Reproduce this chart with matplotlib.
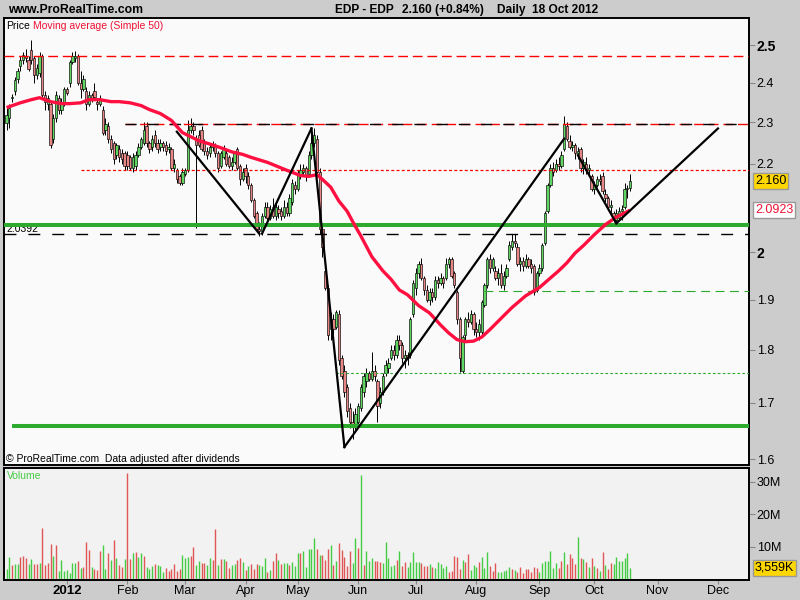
import numpy as np
import pandas as pd
import matplotlib
matplotlib.use('Agg')
import matplotlib.pyplot as plt
from matplotlib.ticker import FixedLocator, FixedFormatter, NullLocator

plt.rcParams['font.family'] = ['Liberation Sans', 'DejaVu Sans']

# trading calendar (Euronext Lisbon closing days removed)
holidays = ['2011-12-26', '2012-04-06', '2012-04-09', '2012-05-01',
            '2012-12-24', '2012-12-25', '2012-12-26', '2012-12-31']
days = pd.bdate_range('2011-11-30', '2012-12-31')
days = days[~days.isin(pd.to_datetime(holidays))]

opens = [2.298, 2.310, 2.360, 2.380, 2.410, 2.445, 2.460, 2.470, 2.460, 2.487,
         2.465, 2.420, 2.425, 2.470, 2.370, 2.345, 2.345, 2.260, 2.310, 2.360,
         2.330, 2.345, 2.385, 2.400, 2.455, 2.465, 2.470, 2.400, 2.385, 2.380,
         2.345, 2.370, 2.380, 2.350, 2.345, 2.330, 2.280, 2.290, 2.260, 2.250,
         2.220, 2.235, 2.225, 2.225, 2.220, 2.215, 2.190, 2.195, 2.220, 2.240,
         2.250, 2.290, 2.250, 2.240, 2.270, 2.250, 2.240, 2.250, 2.245, 2.235,
         2.235, 2.190, 2.185, 2.170, 2.155, 2.175, 2.185, 2.280, 2.290, 2.260,
         2.270, 2.280, 2.250, 2.230, 2.225, 2.240, 2.245, 2.225, 2.195, 2.215,
         2.225, 2.215, 2.195, 2.205, 2.235, 2.195, 2.165, 2.190, 2.170, 2.150,
         2.115, 2.085, 2.050, 2.045, 2.080, 2.100, 2.075, 2.100, 2.080, 2.095,
         2.090, 2.080, 2.100, 2.085, 2.110, 2.150, 2.140, 2.175, 2.180, 2.190,
         2.175, 2.220, 2.250, 2.260, 2.180, 2.050, 1.960, 1.925, 1.840, 1.860,
         1.845, 1.870, 1.785, 1.760, 1.730, 1.690, 1.665, 1.660, 1.665, 1.690,
         1.720, 1.740, 1.755, 1.745, 1.760, 1.740, 1.700, 1.720, 1.755, 1.765,
         1.785, 1.800, 1.790, 1.820, 1.810, 1.785, 1.790, 1.790, 1.870, 1.925,
         1.955, 1.975, 1.945, 1.920, 1.900, 1.915, 1.905, 1.940, 1.935, 1.945,
         1.945, 1.975, 1.985, 1.955, 1.915, 1.860, 1.760, 1.830, 1.860, 1.855,
         1.870, 1.840, 1.835, 1.835, 1.890, 1.930, 1.985, 1.965, 1.960, 1.945,
         1.955, 1.930, 1.950, 1.985, 2.010, 2.025, 2.010, 1.975, 1.980, 1.970,
         1.985, 1.975, 1.970, 1.920, 1.955, 1.965, 2.020, 2.090, 2.150, 2.190,
         2.185, 2.200, 2.195, 2.235, 2.290, 2.255, 2.240, 2.245, 2.225, 2.235,
         2.190, 2.200, 2.185, 2.170, 2.140, 2.150, 2.165, 2.170, 2.130, 2.120,
         2.100, 2.085, 2.070, 2.075, 2.090, 2.100, 2.140, 2.142]
highs = [2.335, 2.345, 2.372, 2.415, 2.440, 2.470, 2.480, 2.490, 2.470, 2.513,
         2.470, 2.450, 2.480, 2.475, 2.380, 2.370, 2.350, 2.320, 2.380, 2.370,
         2.360, 2.390, 2.390, 2.460, 2.480, 2.485, 2.475, 2.430, 2.420, 2.390,
         2.380, 2.375, 2.400, 2.360, 2.370, 2.340, 2.310, 2.300, 2.270, 2.255,
         2.250, 2.245, 2.235, 2.230, 2.230, 2.220, 2.225, 2.230, 2.250, 2.265,
         2.300, 2.300, 2.255, 2.270, 2.280, 2.260, 2.260, 2.255, 2.255, 2.250,
         2.240, 2.210, 2.190, 2.175, 2.190, 2.190, 2.305, 2.310, 2.300, 2.270,
         2.280, 2.290, 2.260, 2.240, 2.250, 2.255, 2.250, 2.230, 2.230, 2.245,
         2.235, 2.220, 2.215, 2.230, 2.240, 2.200, 2.190, 2.200, 2.180, 2.155,
         2.120, 2.090, 2.065, 2.085, 2.110, 2.110, 2.105, 2.120, 2.110, 2.105,
         2.100, 2.115, 2.110, 2.130, 2.165, 2.160, 2.185, 2.200, 2.200, 2.195,
         2.230, 2.287, 2.285, 2.270, 2.190, 2.060, 1.970, 1.930, 1.875, 1.870,
         1.880, 1.880, 1.790, 1.770, 1.735, 1.700, 1.685, 1.690, 1.700, 1.735,
         1.755, 1.765, 1.760, 1.795, 1.770, 1.745, 1.730, 1.755, 1.780, 1.785,
         1.810, 1.810, 1.830, 1.830, 1.815, 1.800, 1.795, 1.865, 1.940, 1.965,
         1.980, 1.988, 1.950, 1.930, 1.925, 1.925, 1.950, 1.950, 1.955, 1.950,
         1.988, 1.990, 1.990, 1.960, 1.920, 1.865, 1.830, 1.865, 1.875, 1.880,
         1.875, 1.855, 1.860, 1.900, 1.935, 1.990, 1.995, 1.990, 1.970, 1.965,
         1.975, 1.960, 1.975, 2.025, 2.040, 2.040, 2.020, 1.990, 1.990, 1.995,
         1.990, 1.985, 1.975, 1.960, 1.975, 2.020, 2.090, 2.155, 2.200, 2.205,
         2.210, 2.215, 2.230, 2.315, 2.300, 2.270, 2.255, 2.250, 2.240, 2.240,
         2.210, 2.215, 2.200, 2.175, 2.160, 2.170, 2.175, 2.180, 2.140, 2.125,
         2.115, 2.090, 2.095, 2.100, 2.105, 2.155, 2.150, 2.175]
lows = [2.280, 2.285, 2.350, 2.370, 2.400, 2.430, 2.450, 2.455, 2.430, 2.450,
        2.400, 2.410, 2.415, 2.360, 2.330, 2.330, 2.238, 2.250, 2.300, 2.320,
        2.320, 2.340, 2.370, 2.390, 2.450, 2.455, 2.395, 2.360, 2.380, 2.330,
        2.340, 2.350, 2.360, 2.330, 2.340, 2.270, 2.270, 2.250, 2.225, 2.200,
        2.210, 2.205, 2.200, 2.185, 2.185, 2.185, 2.180, 2.185, 2.215, 2.235,
        2.245, 2.240, 2.225, 2.230, 2.240, 2.225, 2.230, 2.230, 2.220, 2.225,
        2.185, 2.180, 2.155, 2.150, 2.150, 2.170, 2.180, 2.275, 2.270, 2.053,
        2.240, 2.230, 2.220, 2.210, 2.215, 2.230, 2.215, 2.180, 2.190, 2.210,
        2.195, 2.190, 2.185, 2.200, 2.185, 2.150, 2.160, 2.155, 2.140, 2.110,
        2.075, 2.045, 2.035, 2.038, 2.075, 2.070, 2.070, 2.075, 2.070, 2.075,
        2.070, 2.075, 2.080, 2.080, 2.105, 2.130, 2.135, 2.165, 2.170, 2.160,
        2.170, 2.210, 2.240, 2.170, 2.040, 1.990, 1.920, 1.820, 1.820, 1.830,
        1.840, 1.770, 1.745, 1.710, 1.675, 1.655, 1.635, 1.650, 1.655, 1.685,
        1.710, 1.730, 1.740, 1.740, 1.740, 1.665, 1.690, 1.715, 1.750, 1.755,
        1.780, 1.780, 1.785, 1.800, 1.775, 1.765, 1.770, 1.785, 1.865, 1.910,
        1.945, 1.940, 1.910, 1.895, 1.890, 1.895, 1.900, 1.925, 1.930, 1.925,
        1.940, 1.965, 1.945, 1.925, 1.850, 1.757, 1.755, 1.820, 1.845, 1.850,
        1.830, 1.825, 1.820, 1.830, 1.885, 1.925, 1.955, 1.960, 1.940, 1.930,
        1.925, 1.920, 1.945, 1.980, 2.005, 2.010, 1.970, 1.960, 1.960, 1.965,
        1.965, 1.955, 1.910, 1.915, 1.950, 1.960, 2.015, 2.085, 2.145, 2.170,
        2.180, 2.185, 2.190, 2.230, 2.255, 2.235, 2.230, 2.210, 2.210, 2.180,
        2.175, 2.175, 2.170, 2.135, 2.130, 2.145, 2.150, 2.130, 2.110, 2.095,
        2.085, 2.065, 2.065, 2.070, 2.070, 2.095, 2.120, 2.135]
closes = [2.319, 2.335, 2.365, 2.408, 2.430, 2.460, 2.473, 2.465, 2.435, 2.460,
          2.420, 2.440, 2.470, 2.370, 2.350, 2.360, 2.245, 2.310, 2.370, 2.330,
          2.345, 2.385, 2.375, 2.455, 2.470, 2.470, 2.400, 2.385, 2.410, 2.345,
          2.370, 2.360, 2.365, 2.345, 2.355, 2.275, 2.295, 2.260, 2.235, 2.210,
          2.245, 2.215, 2.210, 2.195, 2.195, 2.190, 2.215, 2.220, 2.240, 2.260,
          2.280, 2.250, 2.235, 2.260, 2.250, 2.235, 2.250, 2.240, 2.230, 2.240,
          2.190, 2.200, 2.165, 2.155, 2.180, 2.185, 2.280, 2.290, 2.280, 2.245,
          2.245, 2.235, 2.230, 2.220, 2.240, 2.245, 2.225, 2.190, 2.225, 2.235,
          2.200, 2.195, 2.205, 2.225, 2.190, 2.165, 2.180, 2.170, 2.150, 2.115,
          2.080, 2.050, 2.045, 2.080, 2.100, 2.075, 2.095, 2.080, 2.100, 2.085,
          2.080, 2.100, 2.085, 2.120, 2.155, 2.140, 2.175, 2.185, 2.190, 2.170,
          2.220, 2.250, 2.270, 2.180, 2.050, 2.010, 1.925, 1.830, 1.860, 1.840,
          1.875, 1.780, 1.750, 1.720, 1.685, 1.665, 1.660, 1.680, 1.695, 1.730,
          1.750, 1.755, 1.745, 1.760, 1.750, 1.695, 1.720, 1.750, 1.770, 1.775,
          1.800, 1.790, 1.820, 1.810, 1.785, 1.790, 1.785, 1.860, 1.935, 1.955,
          1.975, 1.945, 1.920, 1.900, 1.915, 1.905, 1.940, 1.935, 1.945, 1.935,
          1.975, 1.985, 1.950, 1.930, 1.860, 1.785, 1.825, 1.860, 1.855, 1.870,
          1.840, 1.835, 1.850, 1.895, 1.930, 1.985, 1.965, 1.985, 1.945, 1.955,
          1.930, 1.950, 1.965, 2.015, 2.025, 2.020, 1.975, 1.980, 1.970, 1.985,
          1.970, 1.965, 1.915, 1.955, 1.965, 2.015, 2.085, 2.150, 2.190, 2.180,
          2.200, 2.195, 2.220, 2.295, 2.260, 2.240, 2.245, 2.225, 2.230, 2.190,
          2.205, 2.185, 2.190, 2.140, 2.150, 2.165, 2.160, 2.135, 2.120, 2.100,
          2.105, 2.070, 2.085, 2.090, 2.095, 2.140, 2.142, 2.160]

# volume in millions of shares, and bar colour as drawn (g = up, r = down)
volume_m = [3.1, 6.8, 4.3, 4.6, 4.6, 6.8, 7.1, 6.6, 4.6, 6.2,
            4.6, 4.6, 4.9, 15.7, 4.3, 5.1, 10.8, 7.0, 10.5, 2.5,
            5.8, 2.5, 2.8, 1.8, 4.9, 4.9, 5.5, 3.5, 3.8, 11.5,
            9.0, 3.7, 3.2, 2.8, 8.6, 10.5, 3.1, 8.0, 5.8, 12.0,
            6.6, 4.3, 3.7, 6.2, 32.6, 6.2, 8.0, 8.3, 6.8, 8.0,
            7.1, 3.7, 3.1, 4.0, 4.6, 4.3, 4.0, 2.2, 3.4, 2.5,
            3.1, 4.6, 2.5, 3.1, 7.4, 6.5, 6.8, 7.1, 9.8, 4.3,
            5.5, 4.9, 4.9, 4.3, 6.5, 5.8, 15.4, 4.3, 6.2, 6.2,
            5.5, 3.4, 4.3, 4.6, 5.8, 6.5, 5.2, 2.8, 4.0, 4.6,
            3.1, 4.6, 4.3, 4.0, 6.5, 2.2, 2.8, 5.5, 8.0, 5.8,
            4.6, 4.9, 4.9, 4.3, 5.2, 4.0, 8.0, 8.0, 8.6, 3.7,
            9.2, 9.2, 12.6, 9.2, 7.4, 7.4, 5.8, 9.2, 10.5, 4.3,
            5.5, 11.1, 8.9, 6.8, 4.0, 8.6, 4.9, 12.6, 9.5, 32.0,
            4.3, 8.6, 5.5, 6.5, 5.5, 5.5, 5.2, 4.9, 11.4, 6.5,
            4.0, 4.3, 5.8,
            8.6, 4.0, 5.2, 3.7, 5.2, 8.3, 5.2, 5.2, 4.9, 4.0,
            4.0, 4.6, 3.7, 3.4, 5.2, 4.6, 3.4, 4.0, 2.2, 2.5,
            7.1, 6.8, 3.1, 5.8, 5.2, 7.7, 2.8, 4.3, 3.7, 5.2,
            6.8, 3.4, 8.3, 4.0, 2.5, 4.9, 2.2, 2.2, 2.5, 2.8,
            3.7, 3.1, 2.8, 2.2, 3.7, 1.8, 3.1, 3.1, 2.2, 3.7,
            3.4, 2.2, 4.9, 5.5, 5.5, 8.6, 3.4, 4.9, 3.4, 5.5,
            8.3, 4.6, 7.7, 6.5, 4.6, 12.9, 6.5, 6.2, 5.2, 3.7,
            6.5, 4.0, 3.4, 2.5, 8.3, 4.3, 3.1, 4.9, 4.6, 6.8,
            5.5, 5.5, 6.5, 8.0, 3.559]
volume_dir = ("ggrggrrrgg" "rrgrrrrgrg" "ggggggrgrr" "rgrrrggrgr" "grrgrrgrgg"
              "rgggrgggrr" "rrrrgggrrg" "grrggrrgrg" "rrggrrgrgr" "rrgggrgrrg"
              "rggrgggrgg" "gggrgrrrgr" "grrrrrggrg" "rgggrrrggg" "ggr"
              "grrgggggrr" "rgrgggggrr" "rrrgrrgggr" "gggrrrgggg" "grgrrrrrrr"
              "rgggggggrr" "grrrrgrgrg" "rgrgrgrrgg" "ggggg")

# simple 50-day moving average (bar number, price)
ma_bar = [0, 5, 9, 12, 16, 20, 23, 27, 30, 34, 38, 41, 45, 49, 52, 56, 60, 64,
          67, 70, 74, 78, 82, 86, 89, 95, 101, 107, 110, 113, 115, 118, 121,
          124, 126, 129, 133, 137, 140, 143, 146, 150, 154, 158, 161, 164, 167,
          170, 173, 176, 180, 184, 189, 194, 198, 201, 204, 207, 210, 214, 218,
          222, 227]
ma_val = [2.337, 2.349, 2.357, 2.362, 2.352, 2.347, 2.347, 2.349, 2.357, 2.357,
          2.352, 2.352, 2.349, 2.342, 2.332, 2.322, 2.305, 2.275, 2.265, 2.255,
          2.247, 2.238, 2.228, 2.222, 2.215, 2.203, 2.187, 2.172, 2.170, 2.174,
          2.163, 2.145, 2.113, 2.090, 2.067, 2.035, 1.990, 1.960, 1.942, 1.920,
          1.910, 1.888, 1.873, 1.849, 1.833, 1.820, 1.816, 1.817, 1.825, 1.840,
          1.862, 1.884, 1.908, 1.925, 1.945, 1.960, 1.977, 1.998, 2.014, 2.038,
          2.060, 2.077, 2.0923]

# drawn support / resistance levels and where they start (bar number)
res_high, res_high_from = 2.47, 0
res_mid, res_mid_from = 2.297, 43
res_low, res_low_from = 2.185, 27
sup_green, sup_green_from = 2.06, 0
sup_black, sup_black_from = 2.0392, 0
sup_dash, sup_dash_from = 1.917, 174
sup_dot, sup_dot_from = 1.755, 120
sup_bottom, sup_bottom_from = 1.658, 2

# hand-drawn trend lines: (bar, price) -> (bar, price)
trend_lines = [((62, 2.277), (92, 2.040)),
               ((93, 2.040), (111, 2.285)),
               ((111, 2.285), (123, 1.621)),
               ((123, 1.621), (203, 2.260)),
               ((208, 2.220), (222, 2.063)),
               ((222, 2.063), (259, 2.285))]

price_ticks = [1.6, 1.7, 1.8, 1.9, 2.0, 2.2, 2.3, 2.4, 2.5]
price_labels = ['1.6', '1.7', '1.8', '1.9', '2', '2.2', '2.3', '2.4', '2.5']

o = np.array(opens)
c = np.array(closes)
x = np.arange(len(closes))
up = c >= o
right_edge = 270.3

fig = plt.figure(figsize=(8, 6), dpi=100, facecolor='#cccccc')
ax = fig.add_axes([0.005, 0.225, 0.93125, 0.7445], facecolor='#fafafa')
axv = fig.add_axes([0.005, 0.0333, 0.93125, 0.1862], facecolor='#f2f2f2')

# candles
ax.vlines(x, lows, highs, color='black', lw=0.7, zorder=3)
lo = np.minimum(o, c)
hi = np.maximum(o, c)
ax.bar(x, np.maximum(hi - lo, 0.002), bottom=lo, width=0.85,
       color=np.where(up, '#5fd65f', '#e88585'), edgecolor='black',
       linewidth=0.45, zorder=4)

# levels
ax.hlines(res_high, res_high_from - 1, right_edge, color='red', lw=1.0,
          linestyles=(0, (7, 3.5)), zorder=5)
ax.hlines(res_mid, res_mid_from, right_edge, color='red', lw=1.0,
          linestyles=(0, (7, 3.5)), zorder=5)
ax.hlines(res_mid, res_mid_from, right_edge, color='black', lw=1.0,
          linestyles=(0, (8, 8)), zorder=5)
ax.hlines(res_low, res_low_from, right_edge, color='red', lw=0.9,
          linestyles=(0, (2.4, 1.8)), zorder=5)
ax.hlines(sup_green, sup_green_from - 1, right_edge, color='#2eaa2e', lw=2.9, zorder=5)
ax.hlines(sup_black, sup_black_from - 1, right_edge, color='black', lw=1.0,
          linestyles=(0, (8.6, 8.6)), zorder=5)
ax.hlines(sup_dash, sup_dash_from, right_edge, color='#2eaa2e', lw=0.8,
          linestyles=(0, (8, 5)), zorder=5)
ax.hlines(sup_dot, sup_dot_from, right_edge, color='#2eaa2e', lw=0.8,
          linestyles=(0, (2.4, 2)), zorder=5)
ax.hlines(sup_bottom, sup_bottom_from, right_edge, color='#2eaa2e', lw=2.9, zorder=5)

# moving average
ax.plot(ma_bar, ma_val, color='#ff1040', lw=2.4, zorder=6, solid_capstyle='butt')

# trend lines
for (x0, y0), (x1, y1) in trend_lines:
    ax.plot([x0, x1], [y0, y1], color='black', lw=1.6, zorder=7)

ax.set_yscale('log')
ax.set_xlim(-0.93, right_edge)
ax.set_ylim(1.590, 2.573)
ax.yaxis.set_major_locator(FixedLocator(price_ticks))
ax.yaxis.set_major_formatter(FixedFormatter(price_labels))
ax.yaxis.set_minor_locator(NullLocator())
ax.yaxis.tick_right()
ax.tick_params(axis='y', which='major', length=4, width=0.8, color='#888888',
               labelsize=9, pad=1.5)
ax.tick_params(axis='x', which='both', bottom=False, labelbottom=False)
for lab in ax.get_yticklabels():
    if lab.get_text() in ('2', '2.5'):
        lab.set_fontweight('bold')
        lab.set_fontsize(10)
for s in ax.spines.values():
    s.set_linewidth(1.4)

ax.text(1.008, closes[-1], '2.160', transform=ax.get_yaxis_transform(),
        ha='left', va='center', fontsize=9, color='black',
        bbox=dict(boxstyle='square,pad=0.15', facecolor='#ffd700', edgecolor='#999999'))
ax.text(1.008, ma_val[-1], '2.0923', transform=ax.get_yaxis_transform(),
        ha='left', va='center', fontsize=9, color='#ee1133',
        bbox=dict(boxstyle='square,pad=0.15', facecolor='white', edgecolor='#999999'))
ax.text(0.003, sup_black, '2.0392', transform=ax.get_yaxis_transform(),
        ha='left', va='bottom', fontsize=7.5)

# volume
vcol = ['#44cc44' if d == 'g' else '#e05555' for d in volume_dir]
axv.vlines(x, 0, np.array(volume_m) * 1e6, colors=vcol, lw=1.0)
axv.set_xlim(-0.93, right_edge)
axv.set_ylim(-0.25e6, 34.1e6)
axv.yaxis.tick_right()
axv.yaxis.set_major_locator(FixedLocator([10e6, 20e6, 30e6]))
axv.yaxis.set_major_formatter(FixedFormatter(['10M', '20M', '30M']))
axv.tick_params(axis='y', length=4, width=0.8, color='#888888', labelsize=9, pad=1.5)
axv.text(1.008, volume_m[-1] * 1e6, '3,559K', transform=axv.get_yaxis_transform(),
         ha='left', va='center', fontsize=9,
         bbox=dict(boxstyle='square,pad=0.15', facecolor='#ffd700', edgecolor='#999999'))
for s in axv.spines.values():
    s.set_linewidth(1.4)

month_starts = days.to_series().groupby(days.to_period('M')).first()
month_starts = month_starts['2012-01':'2012-12']
tick_pos = days.get_indexer(month_starts.values)
tick_lab = ['2012' if d.month == 1 else d.strftime('%b') for d in month_starts]
axv.set_xticks(tick_pos)
axv.set_xticklabels(tick_lab)
axv.tick_params(axis='x', length=3, width=0.8, color='#888888', labelsize=9, pad=0.8)
for lab in axv.get_xticklabels():
    if lab.get_text() == '2012':
        lab.set_fontweight('bold')
        lab.set_fontsize(9.5)

# header and captions
fig.text(8 / 800, 1 - 10 / 600, 'www.ProRealTime.com', fontsize=8.8,
         fontweight='bold', va='center', ha='left')
fig.text(335 / 800, 1 - 10 / 600, 'EDP - EDP', fontsize=8.6,
         fontweight='bold', va='center', ha='left')
fig.text(402 / 800, 1 - 10 / 600, '2.160 (+0.84%)', fontsize=8.6,
         fontweight='bold', va='center', ha='left')
fig.text(497 / 800, 1 - 10 / 600, 'Daily  18 Oct 2012', fontsize=8.6,
         fontweight='bold', va='center', ha='left')
fig.text(6.5 / 800, 1 - 26 / 600, 'Price', fontsize=7.5, va='center', ha='left')
fig.text(33 / 800, 1 - 26 / 600, 'Moving average (Simple 50)', fontsize=7.5,
         color='#ee1133', va='center', ha='left')
fig.text(6 / 800, 1 - 459 / 600, '© ProRealTime.com  Data adjusted after dividends',
         fontsize=7.5, va='center', ha='left')
fig.text(7 / 800, 1 - 476 / 600, 'Volume', fontsize=7.5, color='#44cc44',
         va='center', ha='left')

fig.savefig('out.png', dpi=100, facecolor=fig.get_facecolor())
